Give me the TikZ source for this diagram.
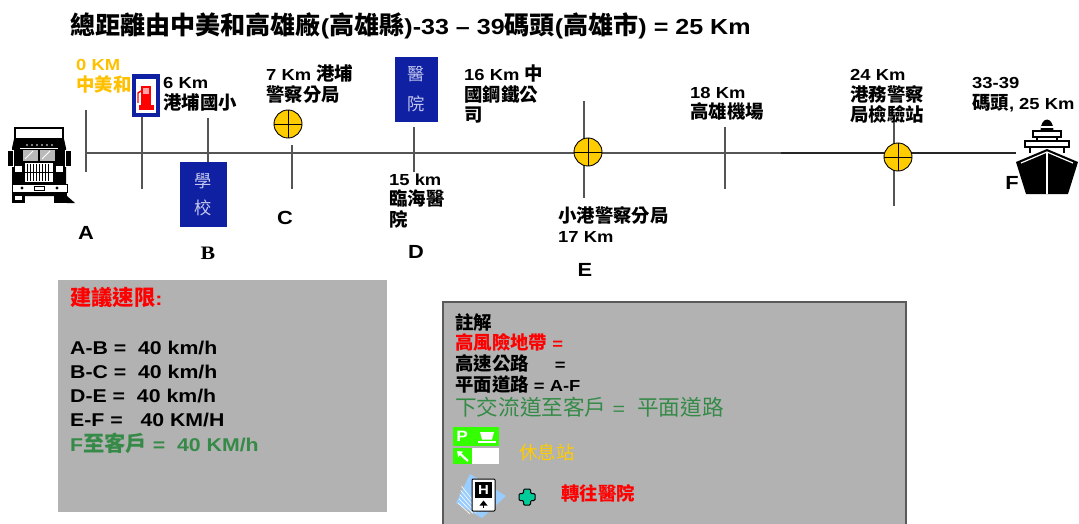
\documentclass[tikz,border=0pt]{standalone}
\usepackage{fontspec}
\usetikzlibrary{arrows.meta}
\setmainfont{Liberation Sans}[FakeStretch=1.15]
\newfontfamily\serifB{Liberation Serif}[FakeStretch=1.15]
\newfontfamily\cjkfont{Noto Sans CJK TC}[Scale=1.15]

% Automatic switch to the CJK family for ideographs
\XeTeXinterchartokenstate=1
\newXeTeXintercharclass\cjkcls
\count255=0
\loop\ifnum\count255<"3000 \XeTeXcharclass\count255=0 \advance\count255 by 1 \repeat
\count255="3000
\loop\ifnum\count255<"A000 \XeTeXcharclass\count255=\cjkcls \advance\count255 by 1 \repeat
\count255="FF00
\loop\ifnum\count255<"FFF0 \XeTeXcharclass\count255=\cjkcls \advance\count255 by 1 \repeat
\XeTeXinterchartoks 0 \cjkcls = {\begingroup\cjkfont}
\XeTeXinterchartoks 4095 \cjkcls = {\begingroup\cjkfont}
\XeTeXinterchartoks \cjkcls 0 = {\endgroup}
\XeTeXinterchartoks \cjkcls 4095 = {\endgroup}

\newcommand\fsz[2]{\fontsize{#1}{#2}\selectfont}

\definecolor{kmorange}{HTML}{FFC000}
\definecolor{signblue}{HTML}{0F20A2}
\definecolor{signtext}{HTML}{C3C8EE}
\definecolor{policeyellow}{HTML}{FFCC00}
\definecolor{linegray}{HTML}{555555}
\definecolor{boxgray}{HTML}{B2B2B2}
\definecolor{frame}{HTML}{5A5A5A}
\definecolor{notegreen}{HTML}{368A48}
\definecolor{restgreen}{HTML}{33FF00}
\definecolor{crossteal}{HTML}{00CC99}
\definecolor{fanblue}{HTML}{99CCFF}

\tikzset{
  % multi-line labels: the given point is the baseline of the last line
  lbl/.style={anchor=base west, align=left, inner sep=0, font=\bfseries\fsz{16}{20.5}},
  letter/.style={inner sep=0, font=\bfseries\fsz{19}{22}},
  sign/.style={fill=signblue, inner sep=0},
  signtxt/.style={text=signtext, align=center, font=\fsz{15}{27}},
  police/.style={circle, draw=black, line width=0.9, fill=policeyellow, minimum size=28, inner sep=0},
  tickline/.style={draw=linegray, line width=1.3},
  road/.style={draw=linegray, line width=1.4},
  roaddark/.style={draw=black!85, line width=1.6},
  speed/.style={anchor=base west, inner sep=0, font=\bfseries\fsz{18.5}{22}},
  note/.style={anchor=base west, inner sep=0, font=\bfseries\fsz{16}{20}},
}

\begin{document}
\begin{tikzpicture}[x=1pt,y=-1pt]
\useasboundingbox[fill=white] (0,0) rectangle (1079,524);

% ---------- title ----------
\node[anchor=base west, inner sep=0, font=\bfseries\fsz{21.8}{24}] (title) at (70,34.5)
  {總距離由中美和高雄廠(高雄縣)-33 – 39碼頭(高雄市) = 25 Km};

% ---------- road ----------
\coordinate (roadL) at (86,153);
\coordinate (roadM) at (781,153);
\coordinate (roadR) at (1016,153);
\draw[road] (roadL) -- (roadM);
\draw[roaddark] (roadM) -- (roadR);

% ticks along the road
\draw[tickline] (86,110) -- (86,172);
\draw[tickline] (142,117) -- (142,189);
\draw[tickline] (208,118) -- (208,162);
\draw[tickline] (292,145) -- (292,189);
\draw[tickline] (414,127) -- (414,172);
\draw[tickline] (584,101) -- (584,198);
\draw[tickline] (725,127) -- (725,189);
\draw[tickline] (894,116) -- (894,206);

% ---------- truck ----------
\begin{scope}
  \filldraw[fill=white, draw=black, line width=1.2] (15,128) rectangle (63,139);
  \fill[black] (14,139) -- (64,139) -- (66,148) -- (66,196) -- (12,196) -- (12,148) -- cycle;
  \foreach \i in {27,32,37,42,47,52} \fill[white] (\i,145) circle (0.9);
  \fill[white] (20,148) rectangle (58,149);
  \fill[gray!55] (23,150) rectangle (38,161);
  \fill[gray!55] (40,150) rectangle (55,161);
  \draw[white, line width=0.9] (25,159) -- (33,151) (42,159) -- (50,151);
  \filldraw[fill=black, draw=white, line width=0.8] (7,150) rectangle (13,166);
  \filldraw[fill=black, draw=white, line width=0.8] (65,150) rectangle (71,166);
  \fill[white] (25,163) rectangle (53,182);
  \foreach \i in {27.5,30.5,...,51} \draw[black, line width=0.9] (\i,164) -- (\i,181);
  \draw[black, line width=0.9] (25,172.5) -- (53,172.5);
  \fill[white] (15,166) rectangle (22,172);
  \fill[white] (56,166) rectangle (63,172);
  \filldraw[fill=white, draw=black, line width=0.8] (12,184) rectangle (67,192);
  \draw[black, line width=0.7] (34,186) rectangle (44,190);
  \fill[black] (22,188) circle (1.6) (57,188) circle (1.6);
  \fill[black] (12,192) rectangle (25,203);
  \fill[black] (54,192) rectangle (67,203);
  \fill[white] (15,196) rectangle (22,200);
  \fill[black] (67,196) -- (75,203) -- (67,203) -- cycle;
\end{scope}

% ---------- ship ----------
\node[inner sep=0, minimum width=60, minimum height=76] (ship) at (1047,156) {};
\begin{scope}
  \fill[black] (1040.5,130.5) arc[start angle=180, end angle=360, x radius=6.5, y radius=11] -- cycle;
  \fill[white] (1040.5,126.5) rectangle (1053.5,128);
  \filldraw[fill=white, draw=black, line width=1.3] (1033,131) rectangle (1061,137);
  \draw[black, line width=1.3] (1037,137) -- (1037,141) (1057,137) -- (1057,141);
  \filldraw[fill=white, draw=black, line width=1.3] (1025,141) rectangle (1069,147);
  \draw[black, line width=1.3] (1030,147) -- (1030,153) (1064,147) -- (1064,153);
  \fill[black] (1016,162) -- (1047,149) -- (1078,162) -- (1068,194) -- (1026,194) -- cycle;
  \draw[white, line width=1.2] (1021,163) -- (1047,152) -- (1073,163);
  \draw[white, line width=1.2] (1047,152) -- (1047,194);
\end{scope}

% ---------- signs ----------
\node[sign, minimum width=28, minimum height=43] (gas) at (146,95.5) {};
\fill[white] (136,79) rectangle (156,113);
\fill[red] (141,86) rectangle (151,107);
\fill[red!35] (143,88) rectangle (149,94);
\fill[red] (139,105) rectangle (154,110);
\draw[red, line width=1.4] (141,91) -- (138,93) -- (138,103);

\node[sign, minimum width=47, minimum height=65, signtxt] (school) at (203.5,194.5) {學\\校};
\node[sign, minimum width=43, minimum height=65, signtxt, font=\fsz{15}{30}] (hosp) at (416.5,89.5) {醫\\院};

% ---------- police stations ----------
\node[police] (polC) at (288,124) {};
\node[police] (polE) at (588,152) {};
\node[police] (polF) at (898,157) {};
\foreach \p in {polC,polE,polF}
  \draw[black, line width=0.9] (\p.north) -- (\p.south) (\p.west) -- (\p.east);

% ---------- labels ----------
\node[lbl, text=kmorange] (lA) at (76,91.5) {0 KM\\中美和};
\node[lbl] (lB) at (163,109.5) {6 Km\\港埔國小};
\node[lbl] (lC) at (266,101.5) {7 Km 港埔\\警察分局};
\node[lbl] (lD1) at (464,122) {16 Km 中\\國鋼鐵公\\司};
\node[lbl] (lD2) at (389,226) {15 km\\臨海醫\\院};
\node[lbl] (lE) at (558,242.5) {小港警察分局\\17 Km};
\node[lbl] (lAir) at (690,118.5) {18 Km\\高雄機場};
\node[lbl] (l24) at (850,122) {24 Km\\港務警察\\局檢驗站};
\node[lbl] (lF) at (972,109.5) {33-39\\碼頭, 25 Km};

\node[letter] (A) at (86,233) {A};
\node[letter, font=\serifB\bfseries\fsz{19}{22}] (B) at (208,253) {B};
\node[letter] (C) at (285,218) {C};
\node[letter] (D) at (416,252) {D};
\node[letter] (E) at (585,270) {E};
\node[letter] (F) at (1012,183) {F};

% ---------- speed limits ----------
\fill[boxgray] (58,280) rectangle (387,512);
\node[speed, text=red] (sT) at (70,305) {建議速限:};
\node[speed] (s1) at (70,354.5) {A-B = ~40 km/h};
\node[speed] (s2) at (70,378.5) {B-C = ~40 km/h};
\node[speed] (s3) at (70,402.5) {D-E = ~40 km/h};
\node[speed] (s4) at (70,426.5) {E-F = ~~40 KM/H};
\node[speed, text=notegreen] (s5) at (70,451) {F至客戶 = ~40 KM/h};

% ---------- legend ----------
\filldraw[fill=boxgray, draw=frame, line width=1.5] (443,302) rectangle (906,535);
\node[note] (n1) at (455,329) {註解};
\node[note, text=red] (n2) at (455,349) {高風險地帶 =};
\node[note] (n3) at (455,370) {高速公路\hspace{26pt}=};
\node[note] (n4) at (455,391) {平面道路 = A-F};
\node[note, text=notegreen, font=\fsz{18.8}{22}] (n5) at (455,415) {下交流道至客戶 = ~平面道路};

% rest area symbol
\fill[restgreen] (453,427) rectangle (499,446);
\node[inner sep=0, text=white, font=\bfseries\fsz{15}{16}] (pLetter) at (462,436.5) {P};
\fill[white] (480,432) -- (494,432) -- (492,439.5) -- (482,439.5) -- cycle;
\fill[white] (478,441) rectangle (496,443);
\fill[restgreen] (453,448) rectangle (472,464);
\fill[white] (472,448) rectangle (499,464);
\draw[white, line width=2.2, -{Triangle[width=7,length=5]}] (468,461) -- (457,451);
\node[note, text=policeyellow, font=\fsz{16}{20}] (rest) at (519,459) {休息站};

% hospital symbol
\fill[fanblue] (456,503) -- (470,474) -- (506,496) -- (482,518) -- cycle;
\foreach \i in {0,3,...,12}
  \draw[white, line width=0.6] (458+\i*0.3,503-\i*1.4) -- (470+\i,514-\i*0.2);
\filldraw[fill=white, draw=black, line width=1, rounded corners=1] (472,479) rectangle (495,511);
\fill[black] (475,482) rectangle (492,498);
\node[inner sep=0, text=white, font=\bfseries\fsz{13}{14}] (hLetter) at (483.5,490) {H};
\fill[black] (483.5,500.5) -- (487.5,505.5) -- (479.5,505.5) -- cycle;
\fill[black] (482.8,505) rectangle (484.2,508);
\filldraw[fill=crossteal, draw=black, line width=1, rounded corners=1.2]
  (523.5,489) -- (530.5,489) -- (530.5,493.5) -- (535,493.5) -- (535,500.5)
  -- (530.5,500.5) -- (530.5,505) -- (523.5,505) -- (523.5,500.5) -- (519,500.5)
  -- (519,493.5) -- (523.5,493.5) -- cycle;
\node[note, text=red, font=\bfseries\fsz{16}{20}] (hospTxt) at (561,500) {轉往醫院};
\end{tikzpicture}
\end{document}
